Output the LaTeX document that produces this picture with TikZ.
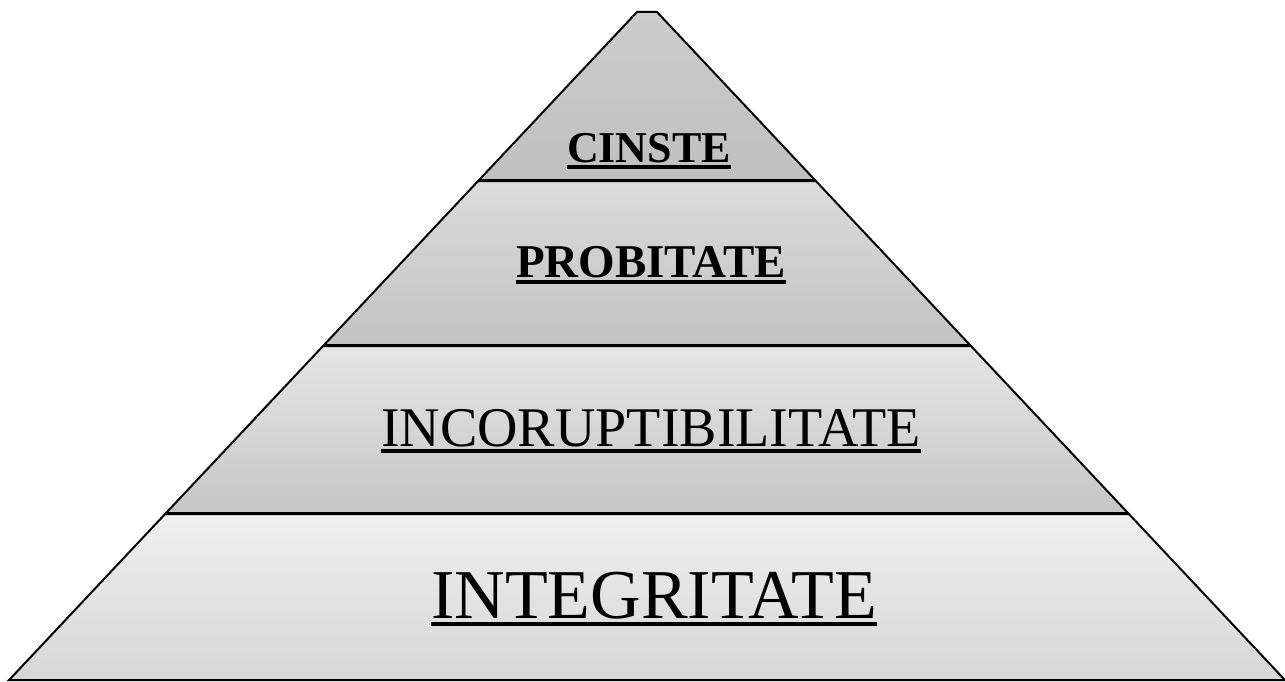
\documentclass[tikz,border=0pt]{standalone}
\usepackage{fontspec}
\setmainfont{Liberation Serif}
\usetikzlibrary{positioning}

\begin{document}
\begin{tikzpicture}[
    x=1pt,
    y=-1pt,
    band/.style={draw=black, line width=2pt, line join=miter},
    word/.style={inner sep=0pt, anchor=base},
    uline/.style={line width=3pt}
]
\useasboundingbox (0,0) rectangle (1285,682);

%---------------- Bands of the pyramid ----------------
\foreach \yt/\yb/\ct/\cb in {12/180/gray!40/gray!50, 181/345/gray!28/gray!48, 346/513/gray!20/gray!45, 514/680/gray!12/gray!32} {
    \pgfmathsetmacro\wt{10+0.94*(\yt-12)}
    \pgfmathsetmacro\wb{10+0.94*(\yb-12)}
    \draw[band, top color=\ct, bottom color=\cb]
        (647-\wt,\yt) -- (647+\wt,\yt) -- (647+\wb,\yb) -- (647-\wb,\yb) -- cycle;
}

%---------------- Labels ----------------
\node[word] (cinste) at (649,162) {\fontsize{44}{44}\selectfont\bfseries CINSTE};
\node[word] (probitate) at (651,277) {\fontsize{47}{47}\selectfont\bfseries PROBITATE};
\node[word] (incoruptibilitate) at (651,446) {\fontsize{56}{56}\selectfont INCORUPTIBILITATE};
\node[word] (integritate) at (654,618) {\fontsize{70}{70}\selectfont INTEGRITATE};

%---------------- Underlines ----------------
\foreach \name/\d/\w in {cinste/5/3.5, probitate/5/3.5, incoruptibilitate/5/3.5, integritate/6/4.5} {
    \draw[uline, line width=\w pt] ([yshift=-\d pt]\name.base west) -- ([yshift=-\d pt]\name.base east);
}
\end{tikzpicture}
\end{document}
